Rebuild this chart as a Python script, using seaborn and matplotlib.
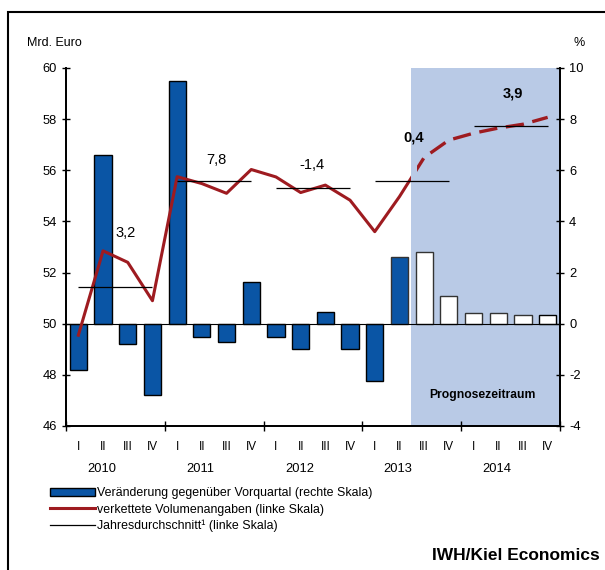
import numpy as np
import pandas as pd
import matplotlib
matplotlib.use("Agg")
import matplotlib.pyplot as plt
from matplotlib.patches import Rectangle, Patch
from matplotlib.lines import Line2D
import matplotlib.transforms as mtransforms
import seaborn as sns

# Daten: Quartale 2010 I bis 2014 IV
quarters = ["I", "II", "III", "IV"] * 5
years = ["2010", "2011", "2012", "2013", "2014"]

# Veränderung gegenüber Vorquartal in % (rechte Skala)
change = [-1.8, 6.6, -0.8, -2.8,
          9.5, -0.5, -0.7, 1.65,
          -0.5, -1.0, 0.45, -1.0,
          -2.25, 2.6, 2.8, 1.1,
          0.4, 0.4, 0.35, 0.35]

# verkettete Volumenangaben in Mrd. Euro (linke Skala)
volume = [49.55, 52.85, 52.4, 50.9,
          55.75, 55.48, 55.1, 56.03,
          55.74, 55.13, 55.42, 54.83,
          53.6, 54.97, 56.5, 57.18,
          57.45, 57.65, 57.8, 58.07]

# Jahresdurchschnitt (linke Skala) und jährliche Veränderung in %
annual_avg = [51.42, 55.57, 55.31, 55.58, 57.74]
annual_label = ["3,2", "7,8", "-1,4", "0,4", "3,9"]
label_bold = [False, False, False, True, True]

n_actual = 14  # 2010 I bis 2013 II sind Istwerte

df = pd.DataFrame({"pos": np.arange(20), "change": change, "volume": volume})
df["kind"] = ["ist" if i < n_actual else "prognose" for i in range(20)]

plt.rcParams["font.family"] = ["Liberation Sans", "DejaVu Sans"]
plt.rcParams["font.size"] = 9
plt.rcParams["axes.unicode_minus"] = False

fig = plt.figure(figsize=(6.05, 5.7), dpi=100)
ax2 = fig.add_axes([66 / 605, 1 - 426 / 570, (560 - 66) / 605, (426 - 68) / 570])
ax = ax2.twinx()
ax.yaxis.tick_left()
ax2.yaxis.tick_right()

blue = "#0A55A5"
red = "#9E1B20"
shade = "#B9CAE6"

# Prognosezeitraum
ax2.axvspan(13.45, 19.5, color=shade, lw=0, zorder=0)

# Balken (rechte Skala)
colors = [blue if k == "ist" else "white" for k in df["kind"]]
edges = ["black" if k == "ist" else "#333333" for k in df["kind"]]
sns.barplot(data=df, x="pos", y="change", hue="pos", palette=colors,
            legend=False, width=0.7, ax=ax2, zorder=2, saturation=1,
            edgecolor="black", linewidth=1.0)
for p, ec in zip(ax2.patches, edges):
    p.set_edgecolor(ec)
ax2.axhline(0, color="black", lw=0.8, zorder=3)

# Linie (linke Skala)
ax.set_zorder(ax2.get_zorder() + 1)
ax.patch.set_visible(False)
clip_a = Rectangle((-1, 40), 14.45, 30, transform=ax.transData)
clip_b = Rectangle((13.7, 40), 10, 30, transform=ax.transData)
sns.lineplot(x=df["pos"][:n_actual + 1], y=df["volume"][:n_actual + 1],
             ax=ax, color=red, lw=2.2)
ax.lines[-1].set_clip_path(clip_a)
sns.lineplot(x=df["pos"][n_actual - 1:], y=df["volume"][n_actual - 1:],
             ax=ax, color=red, lw=2.4, dashes=(5.5, 2.6))
ax.lines[-1].set_clip_path(clip_b)

# Jahresdurchschnitte
for k in range(5):
    ax.hlines(annual_avg[k], 4 * k, 4 * k + 3, color="black", lw=0.9, zorder=4)

label_pos = [(1.9, 53.55), (5.57, 56.42), (9.47, 56.22), (13.59, 57.28), (17.58, 59.0)]
for (lx, ly), txt, b in zip(label_pos, annual_label, label_bold):
    ax.text(lx, ly, txt, ha="center", va="center", fontsize=10.5,
            fontweight="bold" if b else "normal", zorder=5)

ax.text(16.37, 47.2, "Prognosezeitraum", ha="center", va="center",
        fontsize=8.7, fontweight="bold")

# Achsen
ax.set_xlim(-0.5, 19.5)
ax.set_ylim(46, 60)
ax2.set_ylim(-4, 10)
ax.set_yticks(np.arange(46, 61, 2))
ax2.set_yticks(np.arange(-4, 11, 2))
ax.set_ylabel("")
ax2.set_ylabel("")
ax2.set_xlabel("")
ax.set_xlabel("")

for a in (ax, ax2):
    a.spines["top"].set_visible(False)
    a.spines["left"].set_linewidth(1.3)
    a.spines["right"].set_linewidth(1.3)
    a.spines["bottom"].set_linewidth(1.3)
    a.tick_params(axis="y", direction="inout", length=6, width=1, labelsize=9.3)

ax2.set_xticks(np.arange(-0.5, 20, 4))
ax2.set_xticklabels([])
ax2.set_xticks(np.arange(20), minor=True)
ax2.set_xticklabels(quarters, minor=True)
ax2.tick_params(axis="x", which="major", direction="inout", length=7, width=1)
ax2.tick_params(axis="x", which="minor", length=0, pad=11, labelsize=8.5)
ax.tick_params(axis="x", which="both", length=0, labelbottom=False)

trans = mtransforms.blended_transform_factory(ax2.transData, fig.transFigure)
for k, yr in enumerate(years):
    ax2.text(4 * k + 0.95, 1 - 469 / 570, yr, transform=trans, ha="center",
             va="center", fontsize=9.3)

fig.text(27 / 605, 1 - 43 / 570, "Mrd. Euro", ha="left", va="center", fontsize=9)
fig.text(579 / 605, 1 - 43 / 570, "%", ha="center", va="center", fontsize=9)
fig.text(600 / 605, 1 - 556 / 570, "IWH/Kiel Economics", ha="right", va="center",
         fontsize=12.5, fontweight="bold")

handles = [Patch(facecolor=blue, edgecolor="black", lw=1.0),
           Line2D([], [], color=red, lw=2.2),
           Line2D([], [], color="black", lw=0.9)]
labels = ["Veränderung gegenüber Vorquartal (rechte Skala)",
          "verkettete Volumenangaben (linke Skala)",
          "Jahresdurchschnitt\u00b9 (linke Skala)"]
fig.legend(handles, labels, loc="upper left", bbox_to_anchor=(44 / 605, 1 - 481 / 570),
           frameon=False, fontsize=8.9, handlelength=3.6, handletextpad=0.15,
           labelspacing=0.35, borderpad=0)

fig.patches.append(Rectangle((8 / 605, -0.1), 1.2, (570 - 12) / 570 + 0.1,
                             transform=fig.transFigure, fill=False, lw=1.5,
                             edgecolor="black"))

fig.savefig("out.png", dpi=100)
